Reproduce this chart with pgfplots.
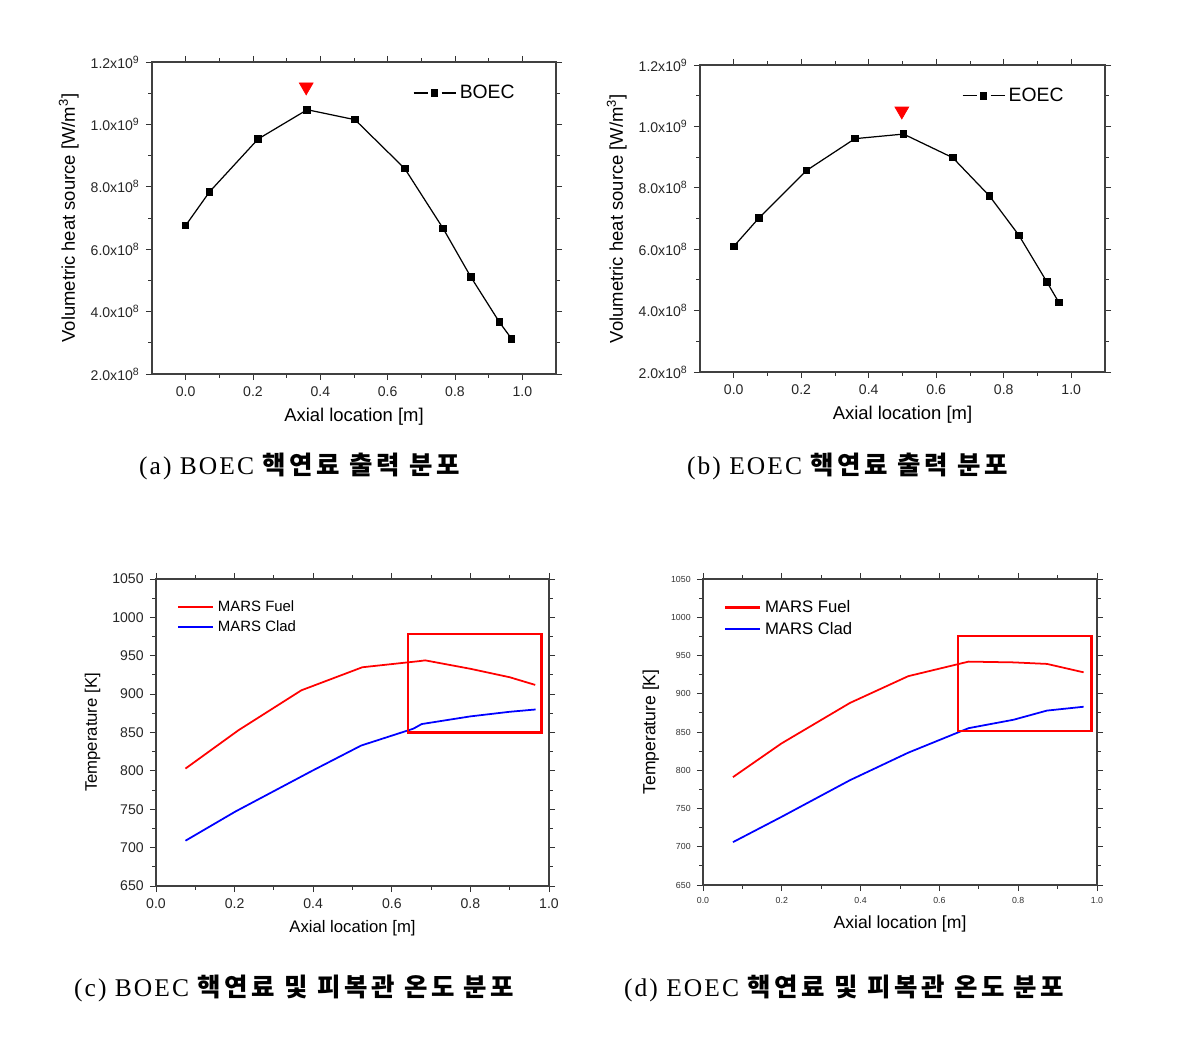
\documentclass[border=0pt]{standalone}
\usepackage{pgfplots}
\pgfplotsset{compat=1.18}
\usepackage{fontspec}
\setmainfont{Liberation Sans}
\newfontfamily\capfont{Liberation Serif}[LetterSpace=8]
\newfontfamily\kr{Noto Sans CJK KR}[LetterSpace=14]

\pgfplotsset{
  origin/.style={
    scale only axis, anchor=south west,
    axis line style={black!75, line width=0.6pt},
    tick style={black!80, line width=0.5pt},
    tick align=outside,
    major tick length=3.5pt, minor tick length=2pt,
    minor x tick num=1, minor y tick num=1,
    scaled x ticks=false, scaled y ticks=false,
    /pgf/number format/assume math mode=true,
    /pgf/number format/1000 sep={},
    xticklabel style={/pgf/number format/fixed, /pgf/number format/precision=1, /pgf/number format/fixed zerofill},
    legend style={draw=none, fill=none, legend cell align=left},
  },
  heat/.style={origin,
    xmin=-0.1, xmax=1.1, ymin=2e8, ymax=1.2e9,
    xtick={0,0.2,0.4,0.6,0.8,1.0},
    ytick={2e8,4e8,6e8,8e8,1e9,1.2e9},
    yticklabels={2.0x10\textsuperscript{8},4.0x10\textsuperscript{8},6.0x10\textsuperscript{8},8.0x10\textsuperscript{8},1.0x10\textsuperscript{9},1.2x10\textsuperscript{9}},
    tick label style={font=\fontsize{8}{9}\selectfont, text=black!85},
    label style={font=\fontsize{10.5}{12}\selectfont},
    xlabel={Axial location [m]},
    ylabel={Volumetric heat source [W/m\textsuperscript{3}]},
    legend style={font=\fontsize{11}{12}\selectfont, at={(0.92,0.95)}, anchor=north east},
    legend image code/.code={
      \draw[#1, mark=none] (0cm,0cm) -- (0.28cm,0cm) (0.56cm,0cm) -- (0.84cm,0cm);
      \draw[#1] plot[only marks] coordinates {(0.42cm,0cm)};
    },
  },
  temp/.style={origin,
    xmin=0, xmax=1, ymin=650, ymax=1050,
    xtick={0,0.2,0.4,0.6,0.8,1.0},
    ytick={650,700,...,1050},
    xlabel={Axial location [m]},
    ylabel={Temperature [K]},
    legend style={at={(0.04,0.955)}, anchor=north west},
    legend image code/.code={\draw[#1, line width=1.2pt] (0cm,0cm) -- (0.7cm,0cm);},
  },
}

\begin{document}
\begin{tikzpicture}
\path (0,0) rectangle (23.98cm,20.98cm);

% (a) BOEC
\begin{axis}[heat, at={(3.04cm,13.50cm)}, width=8.08cm, height=6.24cm]
\addplot[black, line width=0.7pt, mark=square*, mark size=1.8pt] coordinates {
  (0.000,6.76e8) (0.071,7.84e8) (0.215,9.53e8) (0.361,10.47e8) (0.503,10.15e8)
  (0.651,8.58e8) (0.765,6.66e8) (0.847,5.11e8) (0.932,3.66e8) (0.968,3.13e8)
};
\addlegendentry{BOEC}
\addplot[forget plot, only marks, red, mark=triangle*, mark size=4.5pt, mark options={rotate=180}] coordinates {(0.358,11.2e8)};
\end{axis}

% (b) EOEC
\begin{axis}[heat, at={(14.00cm,13.54cm)}, width=8.10cm, height=6.14cm]
\addplot[black, line width=0.7pt, mark=square*, mark size=1.8pt] coordinates {
  (0.000,6.09e8) (0.074,7.01e8) (0.215,8.56e8) (0.359,9.60e8) (0.503,9.75e8)
  (0.649,8.98e8) (0.758,7.73e8) (0.845,6.45e8) (0.928,4.93e8) (0.963,4.27e8)
};
\addlegendentry{EOEC}
\addplot[forget plot, only marks, red, mark=triangle*, mark size=4.5pt, mark options={rotate=180}] coordinates {(0.498,10.5e8)};
\end{axis}

% (c) BOEC temperatures
\begin{axis}[temp, at={(3.12cm,3.26cm)}, width=7.86cm, height=6.14cm,
  tick label style={font=\fontsize{8}{9}\selectfont, text=black!85},
  label style={font=\fontsize{9.5}{11}\selectfont},
  legend style={font=\fontsize{8.5}{10}\selectfont}]
\addplot[red, line width=1pt] coordinates {
  (0.075,803) (0.210,853) (0.370,905) (0.525,935) (0.670,943) (0.685,944)
  (0.800,933) (0.900,922) (0.965,912)
};
\addlegendentry{MARS Fuel}
\addplot[blue, line width=1pt] coordinates {
  (0.075,709) (0.202,747) (0.397,800) (0.522,833) (0.655,855) (0.676,861)
  (0.800,871) (0.900,877) (0.966,880)
};
\addlegendentry{MARS Clad}
\draw[red, line width=1.2pt] (axis cs:0.642,850) rectangle (axis cs:0.981,978);
\end{axis}

% (d) EOEC temperatures
\begin{axis}[temp, at={(14.06cm,3.28cm)}, width=7.88cm, height=6.12cm,
  tick label style={font=\fontsize{5}{6}\selectfont, text=black!80},
  label style={font=\fontsize{10}{12}\selectfont},
  legend style={font=\fontsize{9.5}{11}\selectfont}]
\addplot[red, line width=1pt] coordinates {
  (0.076,791) (0.199,835) (0.373,888) (0.521,923) (0.674,942) (0.788,941)
  (0.873,939) (0.966,928)
};
\addlegendentry{MARS Fuel}
\addplot[blue, line width=1pt] coordinates {
  (0.076,706) (0.199,739) (0.373,787) (0.521,823) (0.674,855) (0.788,866)
  (0.873,878) (0.966,883)
};
\addlegendentry{MARS Clad}
\draw[red, line width=1.2pt] (axis cs:0.648,851) rectangle (axis cs:0.986,976);
\end{axis}

% captions
\node[anchor=west] at (2.66cm,11.66cm) {\fontsize{14.5}{16}\selectfont\capfont (a) BOEC \kr\bfseries 핵연료 출력 분포};
\node[anchor=west] at (13.62cm,11.66cm) {\fontsize{14.5}{16}\selectfont\capfont (b) EOEC \kr\bfseries 핵연료 출력 분포};
\node[anchor=west] at (1.36cm,1.22cm) {\fontsize{14.5}{16}\selectfont\capfont (c) BOEC \kr\bfseries 핵연료 및 피복관 온도 분포};
\node[anchor=west] at (12.36cm,1.22cm) {\fontsize{14.5}{16}\selectfont\capfont (d) EOEC \kr\bfseries 핵연료 및 피복관 온도 분포};
\end{tikzpicture}
\end{document}
